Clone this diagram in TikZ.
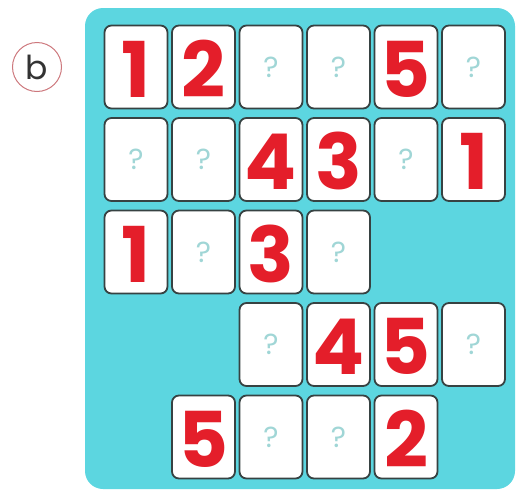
\documentclass[tikz,border=0pt]{standalone}
\usepackage{fontspec}
\setmainfont{Poppins}
\usepackage{xcolor}
\usetikzlibrary{positioning}

\definecolor{boardcyan}{RGB}{92,214,224}
\definecolor{tileline}{RGB}{55,66,66}
\definecolor{numred}{RGB}{228,30,42}
\definecolor{qmark}{RGB}{160,214,214}
\definecolor{ringred}{RGB}{205,120,125}

\begin{document}
\begin{tikzpicture}[
    x=1pt, y=-1pt,
    board/.style={
        fill=boardcyan,
        draw=none,
        rounded corners=18pt
    },
    tile/.style={
        draw=tileline,
        line width=1.8pt,
        fill=white,
        rounded corners=7pt,
        minimum width=63pt,
        minimum height=83pt,
        inner sep=0pt
    },
    num/.style={
        tile,
        text=numred,
        text height=60pt,
        text depth=0pt,
        font=\fontsize{77}{77}\selectfont\bfseries
    },
    ask/.style={
        tile,
        text=qmark,
        font=\fontsize{29}{29}\selectfont
    },
    tag/.style={
        draw=ringred,
        line width=1pt,
        circle,
        minimum size=49pt,
        inner sep=0pt,
        text=black!80,
        font=\fontsize{33}{33}\selectfont
    }
]

\useasboundingbox (0,0) rectangle (517,493);

\path[board] (85,8) rectangle (515,489);

\node[tag] (label) at (37,67) {b};

% row 1
\node[num] (r1c1) at (136,67)   {1};
\node[num] (r1c2) at (203.5,67) {2};
\node[ask] (r1c3) at (271,67)   {?};
\node[ask] (r1c4) at (338.5,67) {?};
\node[num] (r1c5) at (406,67)   {5};
\node[ask] (r1c6) at (473.5,67) {?};

% row 2
\node[ask] (r2c1) at (136,159.5)   {?};
\node[ask] (r2c2) at (203.5,159.5) {?};
\node[num] (r2c3) at (271,159.5)   {4};
\node[num] (r2c4) at (338.5,159.5) {3};
\node[ask] (r2c5) at (406,159.5)   {?};
\node[num] (r2c6) at (473.5,159.5) {1};

% row 3
\node[num] (r3c1) at (136,252)   {1};
\node[ask] (r3c2) at (203.5,252) {?};
\node[num] (r3c3) at (271,252)   {3};
\node[ask] (r3c4) at (338.5,252) {?};

% row 4
\node[ask] (r4c3) at (271,344.5)   {?};
\node[num] (r4c4) at (338.5,344.5) {4};
\node[num] (r4c5) at (406,344.5)   {5};
\node[ask] (r4c6) at (473.5,344.5) {?};

% row 5
\node[num] (r5c2) at (203.5,437) {5};
\node[ask] (r5c3) at (271,437)   {?};
\node[ask] (r5c4) at (338.5,437) {?};
\node[num] (r5c5) at (406,437)   {2};

\end{tikzpicture}
\end{document}
